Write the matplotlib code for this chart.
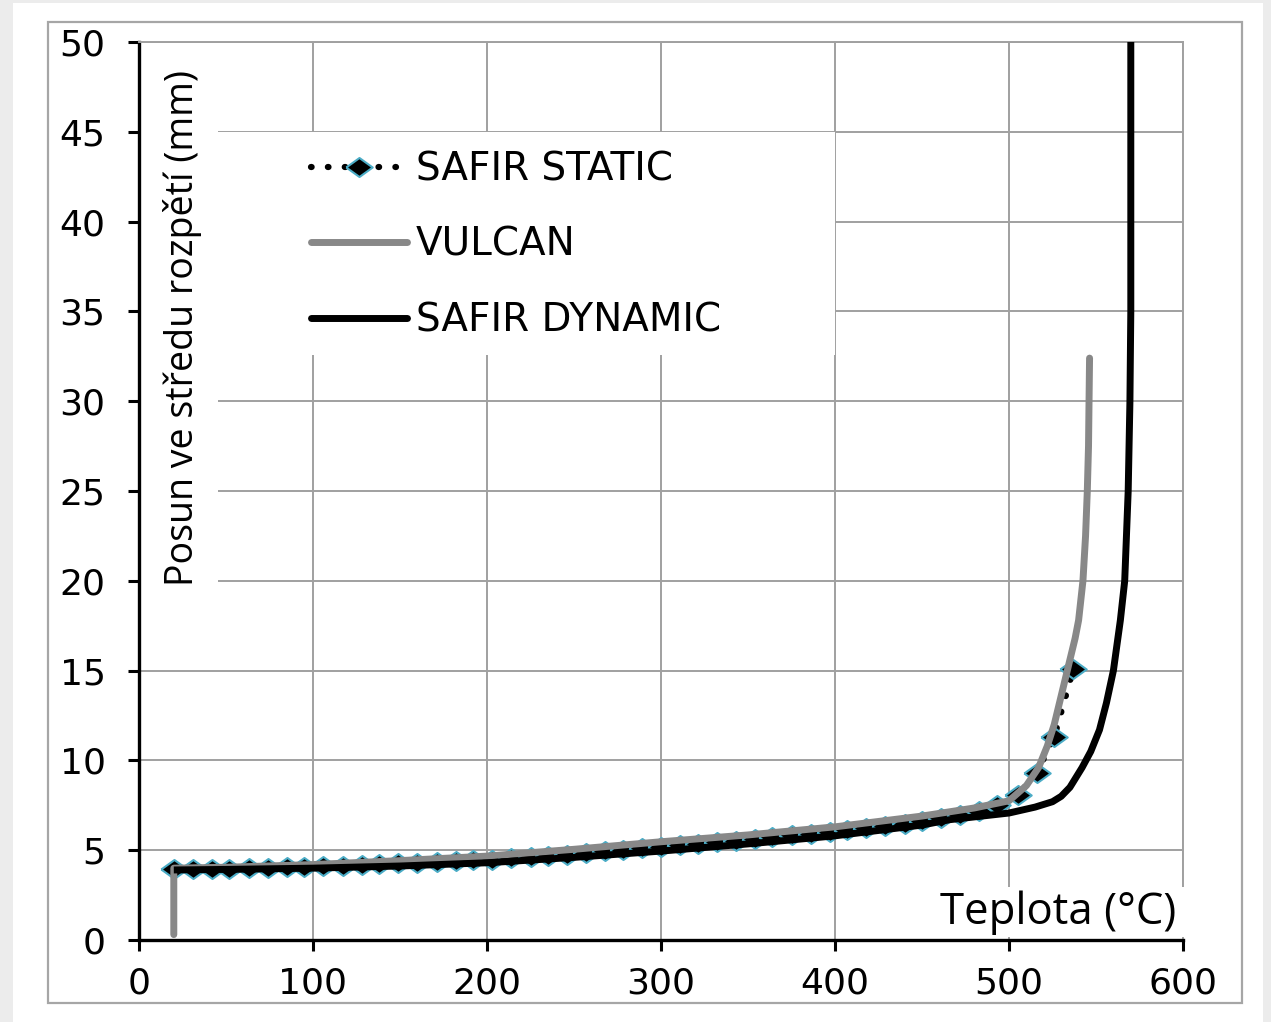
import matplotlib
matplotlib.use('Agg')
from matplotlib import pyplot as plt
from matplotlib.patches import Rectangle
from matplotlib.lines import Line2D

# SAFIR STATIC - one marker per computed step
static_temp = [20, 31, 42, 52, 63, 74, 85, 95, 106, 117, 128, 138, 149, 160, 171, 182, 192,
               203, 214, 225, 235, 246, 257, 268, 278, 289, 300, 311, 321, 332, 343, 354, 364,
               375, 386, 397, 407, 418, 429, 440, 450, 461, 472, 483, 493, 505, 516, 526, 537]
static_disp = [3.95, 3.96, 3.97, 3.98, 3.99, 4.01, 4.04, 4.07, 4.10, 4.14, 4.18, 4.22, 4.26,
               4.30, 4.35, 4.39, 4.43, 4.47, 4.55, 4.62, 4.68, 4.75, 4.85, 4.95, 5.03, 5.11,
               5.20, 5.28, 5.36, 5.44, 5.53, 5.62, 5.72, 5.82, 5.92, 6.02, 6.12, 6.23, 6.35,
               6.48, 6.62, 6.77, 6.95, 7.20, 7.50, 8.05, 9.30, 11.30, 15.10]

# VULCAN
vulcan_temp = [20, 20, 50, 100, 150, 200, 250, 300, 350, 400, 450, 480, 500, 510, 517, 522,
               526, 529, 532, 535, 538, 540, 542.5, 544, 545, 545.7, 546, 546.3]
vulcan_disp = [0.3, 4.0, 4.05, 4.2, 4.42, 4.67, 5.05, 5.47, 5.85, 6.3, 6.9, 7.35, 7.75, 8.6,
               9.6, 10.8, 12.0, 13.2, 14.4, 15.6, 16.8, 17.8, 20.0, 22.5, 25.0, 27.5, 30.0, 32.4]

# SAFIR DYNAMIC
dynamic_temp = [20, 50, 100, 150, 200, 250, 300, 350, 400, 450, 466, 500, 515, 525, 530, 535,
                542, 547, 552, 556, 560, 564, 566.5, 568.5, 569.5, 570, 570]
dynamic_disp = [3.9, 3.93, 4.0, 4.12, 4.3, 4.6, 4.95, 5.35, 5.8, 6.4, 6.7, 7.07, 7.4, 7.7, 8.0,
                8.5, 9.6, 10.5, 11.7, 13.2, 15.0, 17.8, 20.0, 25.0, 30.0, 35.0, 50.0]

x_ticks = [0, 100, 200, 300, 400, 500, 600]
y_ticks = [0, 5, 10, 15, 20, 25, 30, 35, 40, 45, 50]

label_static = 'SAFIR STATIC'
label_vulcan = 'VULCAN'
label_dynamic = 'SAFIR DYNAMIC'

# the source picture is stretched sideways, so the diamonds are wider than tall
diamond = [(-1, 0), (0, 0.72), (1, 0), (0, -0.72), (-1, 0)]

fig = plt.figure(figsize=(12.71, 10.22), dpi=100, facecolor='#ececec')
fig.patches.append(Rectangle((13 / 1271, 0), 1250 / 1271, 1019 / 1022, transform=fig.transFigure,
                             facecolor='white', edgecolor='none', zorder=-2))
fig.patches.append(Rectangle((48 / 1271, 19 / 1022), 1194 / 1271, 981 / 1022, transform=fig.transFigure,
                             facecolor='none', edgecolor='#a6a6a6', lw=1.6, zorder=-1))

ax = fig.add_axes([139 / 1271, 82 / 1022, 1044 / 1271, 898 / 1022])
ax.set_zorder(1)
ax.set_facecolor('none')
ax.set_xlim(0, 600)
ax.set_ylim(0, 50)
ax.set_xticks(x_ticks)
ax.set_yticks(y_ticks)
ax.set_axisbelow(True)
ax.grid(True, color='#a0a0a0', lw=1.4)

for side in ['left', 'bottom']:
    ax.spines[side].set_color('black')
    ax.spines[side].set_linewidth(2.4)
for side in ['top', 'right']:
    ax.spines[side].set_color('#a0a0a0')
    ax.spines[side].set_linewidth(1.4)

ax.tick_params(axis='both', direction='out', length=8, width=2.2, color='black',
               labelsize=26, labelcolor='black')
ax.tick_params(axis='y', pad=16)
ax.tick_params(axis='x', pad=11)
for lab in ax.get_xticklabels() + ax.get_yticklabels():
    lab.set_family('DejaVu Sans')

# white boxes behind the legend and the axis titles (they hide the gridlines)
ax.add_patch(Rectangle((0, 18.9), 45.4, 31.0, facecolor='white', edgecolor='none', zorder=1))
ax.add_patch(Rectangle((45.4, 32.6), 354.6, 12.4, facecolor='white', edgecolor='none', zorder=1))
ax.add_patch(Rectangle((440, 0.15), 161, 2.8, facecolor='white', edgecolor='none', zorder=2.6,
                       clip_on=False))

ax.plot(static_temp, static_disp, color='black', lw=4.5, linestyle=(0, (0.1, 2.6)),
        dash_capstyle='round', marker=diamond, markersize=19, markerfacecolor='black',
        markeredgecolor='#4bacc6', markeredgewidth=1.5, zorder=3)
ax.plot(vulcan_temp, vulcan_disp, color='#888888', lw=5, solid_capstyle='round',
        solid_joinstyle='round', zorder=4)
ax.plot(dynamic_temp, dynamic_disp, color='black', lw=5, solid_capstyle='butt',
        solid_joinstyle='round', zorder=5)

handles = [
    Line2D([], [], color='black', lw=4.5, linestyle=(0, (0.1, 2.6)), dash_capstyle='round',
           marker=diamond, markersize=19, markerfacecolor='black',
           markeredgecolor='#4bacc6', markeredgewidth=1.5),
    Line2D([], [], color='#888888', lw=5, solid_capstyle='round'),
    Line2D([], [], color='black', lw=5, solid_capstyle='round'),
]
leg = ax.legend(handles, [label_static, label_vulcan, label_dynamic], loc='upper left',
                bbox_to_anchor=(0.165, 0.879), frameon=False, borderpad=0, borderaxespad=0,
                handlelength=2.46, handletextpad=0.23, labelspacing=0.96, numpoints=1,
                prop={'family': 'DejaVu Sans', 'size': 28})
leg.set_zorder(6)

ax.text(0.042, 0.681, 'Posun ve středu rozpětí (mm)', transform=ax.transAxes, rotation=90,
        ha='center', va='center', fontsize=27, family='Open Sans', zorder=6)
ax.text(0.994, 0.018, 'Teplota (°C)', transform=ax.transAxes, ha='right', va='baseline',
        fontsize=31.5, family='Open Sans', zorder=6)

fig.savefig('out.png', dpi=100, facecolor=fig.get_facecolor())
